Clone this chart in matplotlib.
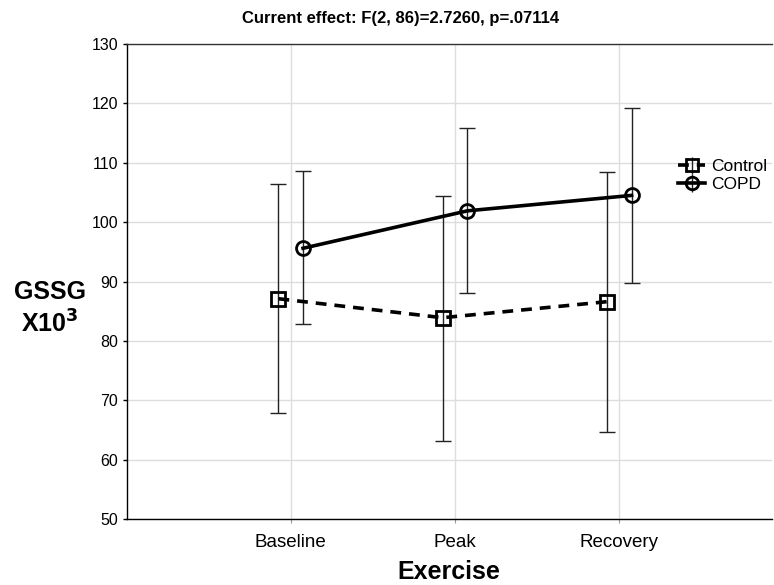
import matplotlib
matplotlib.use("Agg")
import matplotlib.pyplot as plt
import numpy as np

plt.rcParams['font.family'] = ['Liberation Sans', 'DejaVu Sans']

categories = ["Baseline", "Peak", "Recovery"]
control_mean = [87.1, 83.9, 86.6]
control_upper = [106.4, 104.4, 108.5]
control_lower = [67.8, 63.1, 64.7]
copd_mean = [95.6, 101.9, 104.5]
copd_upper = [108.6, 115.8, 119.2]
copd_lower = [82.8, 88.1, 89.8]

fig = plt.figure(figsize=(7.74, 5.85), dpi=100)
ax = fig.add_axes([127/774, 66/585, 645/774, 475/585])

x = np.arange(len(categories))
off = 0.075

ctrl_err = [np.array(control_mean) - np.array(control_lower),
            np.array(control_upper) - np.array(control_mean)]
copd_err = [np.array(copd_mean) - np.array(copd_lower),
            np.array(copd_upper) - np.array(copd_mean)]

ax.errorbar(x - off, control_mean, yerr=ctrl_err, fmt='none', ecolor='#222222',
            elinewidth=1, capsize=6, capthick=1, zorder=3)
ax.errorbar(x + off, copd_mean, yerr=copd_err, fmt='none', ecolor='#222222',
            elinewidth=1, capsize=6, capthick=1, zorder=3)
ax.plot(x - off, control_mean, linestyle=(0, (3, 2.2)), color='black', lw=2.6,
        marker='s', markersize=9.5, mfc='none', mec='black', mew=2, zorder=4)
ax.plot(x + off, copd_mean, linestyle='-', color='black', lw=2.6,
        marker='o', markersize=10, mfc='none', mec='black', mew=2, zorder=4)

# legend handles
h1 = ax.errorbar([], [], yerr=[], fmt='s', linestyle=(0, (3, 2.2)), color='black',
                 lw=2.6, markersize=9, mfc='none', mew=2, capsize=6, ecolor='#222222', elinewidth=1)
h2 = ax.errorbar([], [], yerr=[], fmt='o', linestyle='-', color='black',
                 lw=2.6, markersize=9, mfc='none', mew=2, capsize=6, ecolor='#222222', elinewidth=1)
leg = ax.legend([h1, h2], ["Control", "COPD"], loc='upper left',
                bbox_to_anchor=(0.843, 0.772), frameon=False, fontsize=12.5,
                handlelength=1.6, handletextpad=0.3, labelspacing=0.15,
                borderaxespad=0)

ax.set_xlim(-0.997, 2.93)
ax.set_ylim(50, 130)
ax.set_yticks(np.arange(50, 131, 10))
ax.set_xticks(x)
ax.set_xticklabels(categories)
ax.tick_params(axis='y', labelsize=11.5, length=3, width=1, direction='out')
ax.tick_params(axis='x', labelsize=13.5, length=3, color='#999999', pad=8)
ax.grid(True, color='#dddddd', lw=1)
ax.set_axisbelow(True)
ax.spines['right'].set_visible(False)
for s in ['left', 'bottom', 'top']:
    ax.spines[s].set_linewidth(1)
ax.spines['top'].set_color('#333333')

fig.text(449/774, 1 - 572/585, "Exercise", fontsize=18, fontweight='bold',
         ha='center', va='center')
fig.text(50/774, 1 - 309/585, "GSSG\nX10$^\\mathbf{3}$", fontsize=18, fontweight='bold',
         ha='center', va='center', linespacing=1.3)
fig.text(401/774, 1 - 18/585, "Current effect: F(2, 86)=2.7260, p=.07114",
         fontsize=12, fontweight='bold', ha='center', va='center')

fig.savefig("out.png", dpi=100)
